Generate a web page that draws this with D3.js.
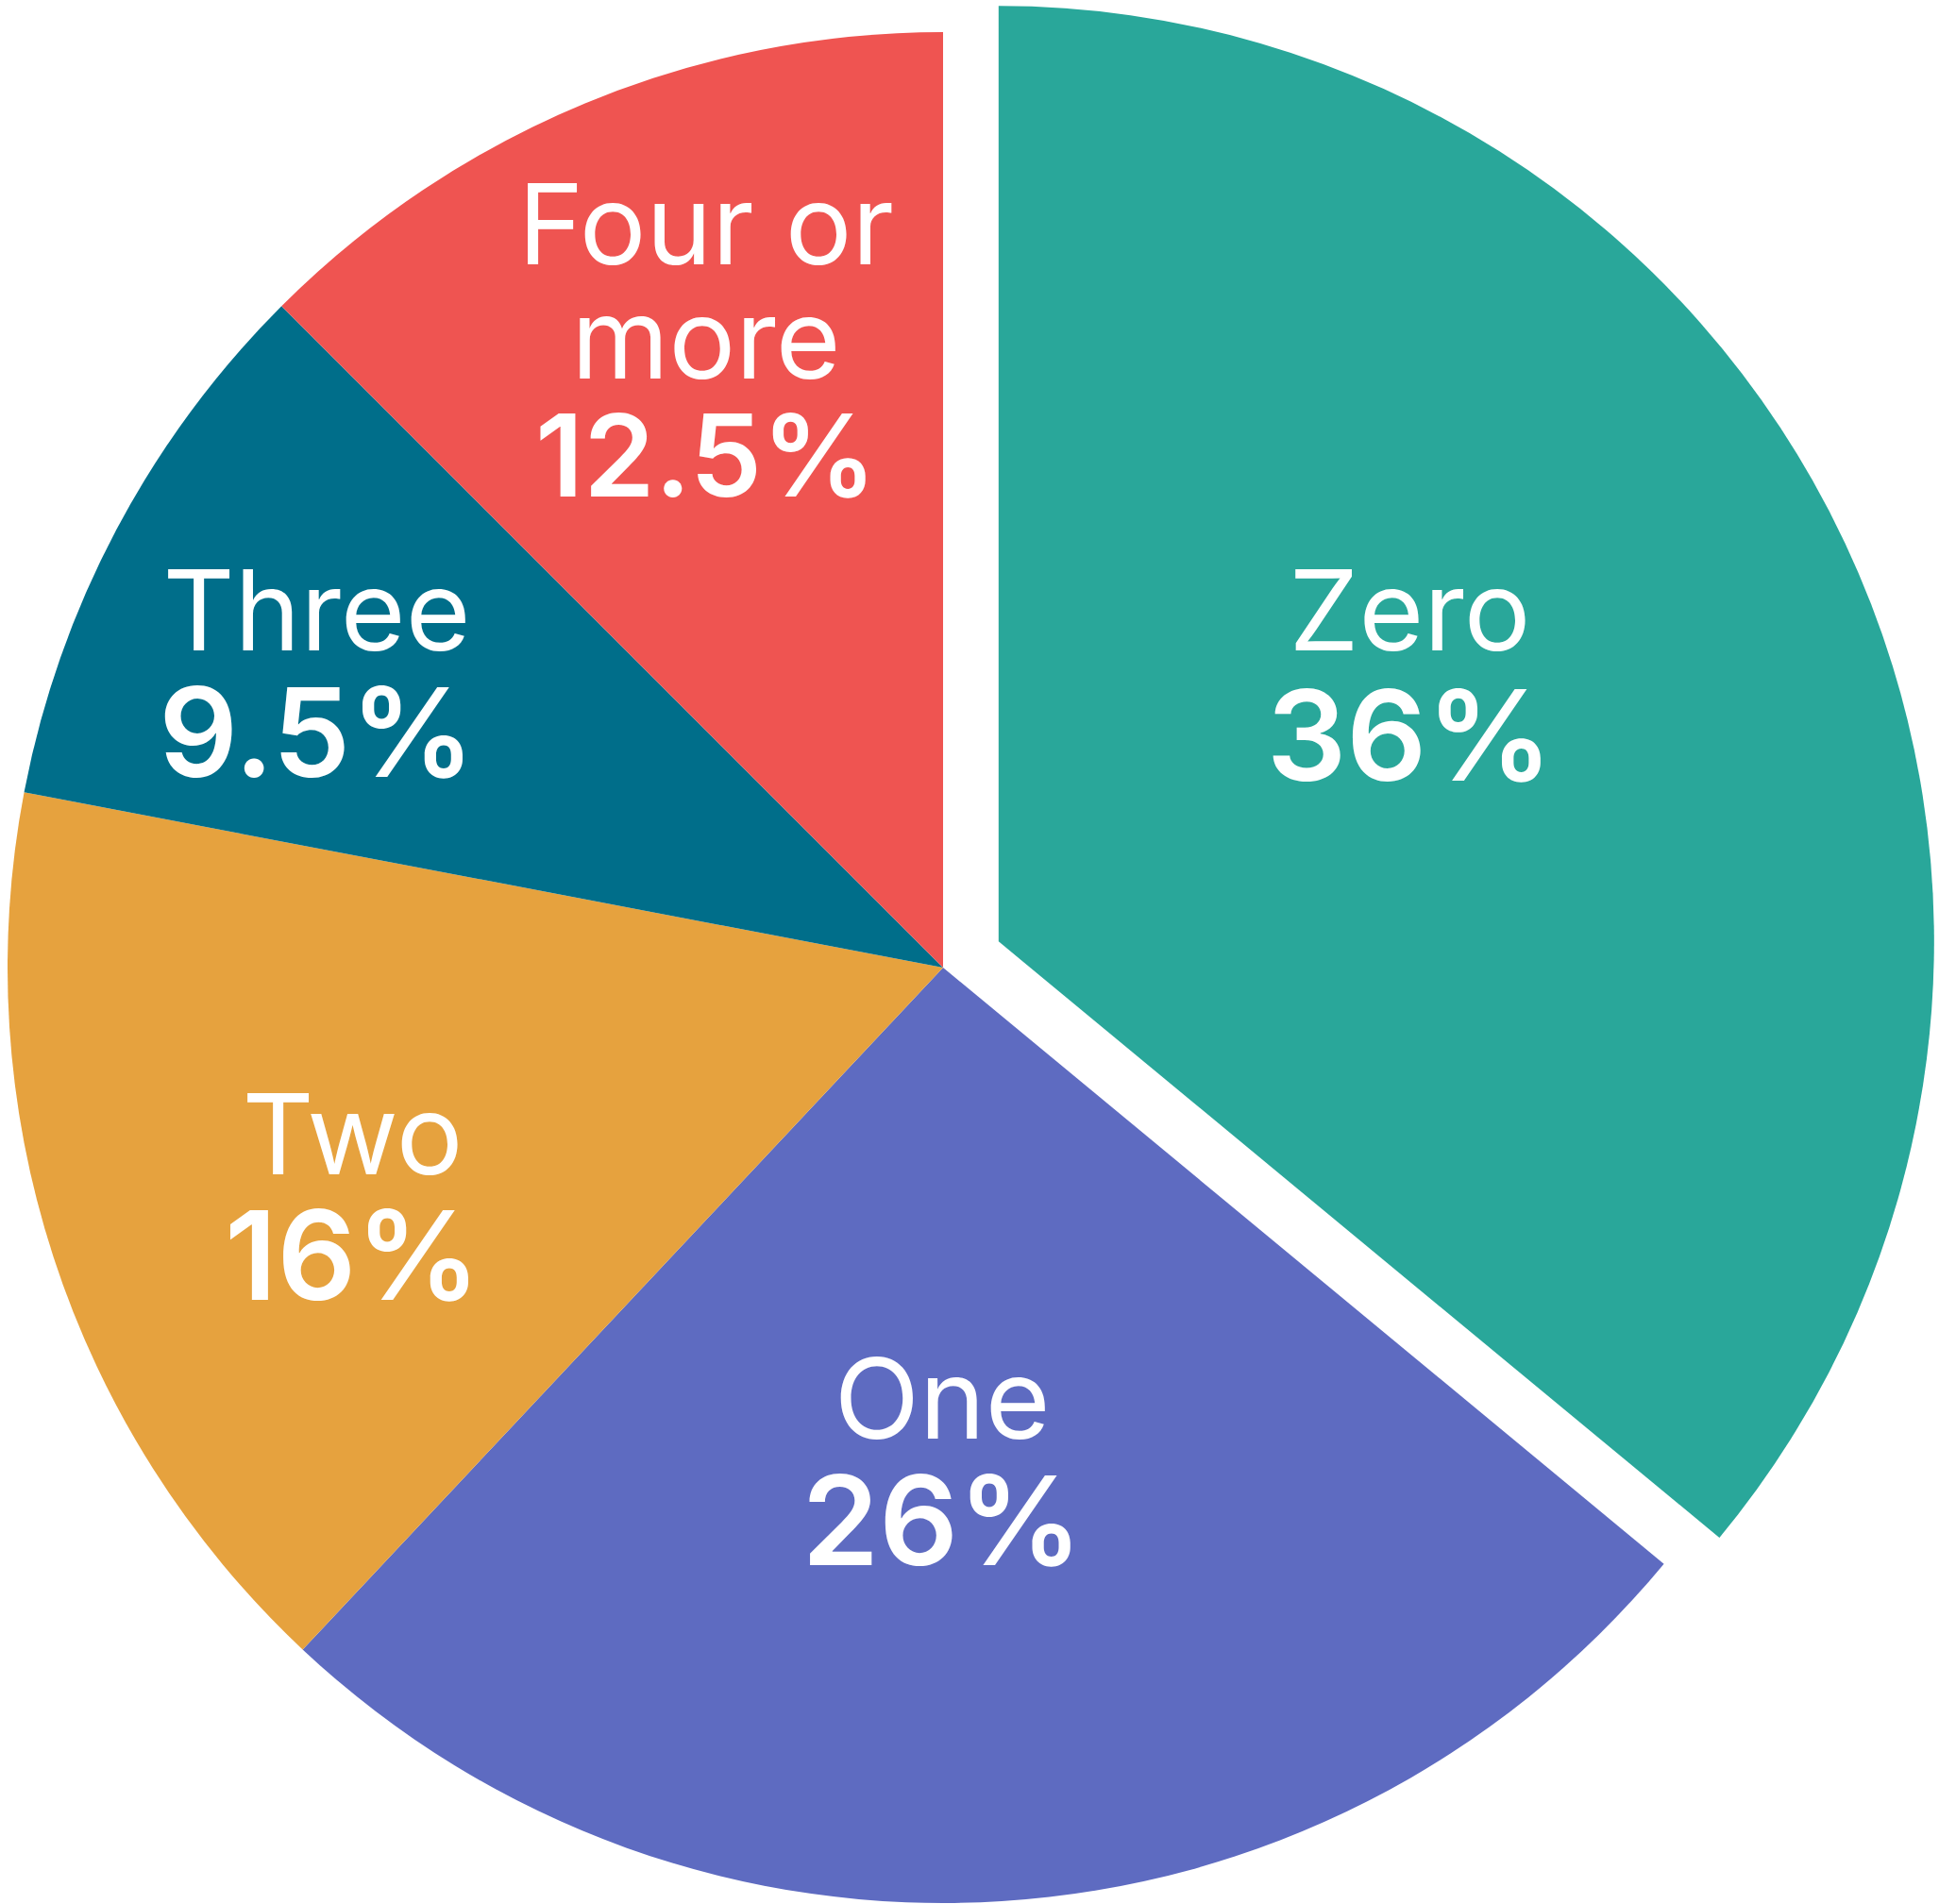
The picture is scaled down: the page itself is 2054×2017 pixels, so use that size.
<!DOCTYPE html>
<html>
<head>
<meta charset="utf-8">
<script src="https://cdn.jsdelivr.net/npm/d3@7"></script>
<style>
  html, body { margin: 0; padding: 0; background: #fff; }
  svg { display: block; }
  .label text { font-family: Inter, sans-serif; fill: #fff; }
  .name { font-weight: 400; }
  .pct { font-weight: 600; }
</style>
</head>
<body>
<div id="chart"></div>
<script>
const categories = ['Zero', 'One', 'Two', 'Three', 'Four or more'];
const shares = [36, 26, 16, 9.5, 12.5];
const pctLabels = ['36%', '26%', '16%', '9.5%', '12.5%'];
const nameLines = [['Zero'], ['One'], ['Two'], ['Three'], ['Four or', 'more']];
const colors = ['#29a79a', '#5e6bc1', '#e6a23e', '#006e8a', '#ef5451'];

const W = 2054;
const H = 2017;
const cx = 999;
const cy = 1025;
const R = 991;
const explode = 65;

// label placement: fraction of radius and angular nudge (degrees) per slice
const labelRadius = [0.524, 0.528, 0.677, 0.74, 0.717];
const labelNudge = [-7.8, 3.7, -3.2, -2.7, 1.8];
// percent line: font size and gap below the last name line, per slice
const pctSize = [133, 131, 131, 131, 121];
const pctGap = [138, 134, 133, 134, 125];

const svg = d3.select('#chart').append('svg')
  .attr('width', W)
  .attr('height', H)
  .attr('viewBox', `0 0 ${W} ${H}`);

const pie = d3.pie().sort(null).value(d => d.value);
const arcs = pie(categories.map((c, i) => ({ name: c, value: shares[i], i })));
const arc = d3.arc().innerRadius(0).outerRadius(R);

const g = svg.append('g').attr('transform', `translate(${cx},${cy})`);

function shift(d) {
  if (d.index !== 0) return [0, 0];
  const a = (d.startAngle + d.endAngle) / 2;
  return [Math.sin(a) * explode, -Math.cos(a) * explode];
}

g.selectAll('path.slice')
  .data(arcs)
  .join('path')
  .attr('class', 'slice')
  .attr('d', arc)
  .attr('fill', d => colors[d.index])
  .attr('transform', d => `translate(${shift(d)})`);

const NAME_SIZE = 118;
const CAP = 86;
const LINE = 121;

const labels = g.selectAll('g.label')
  .data(arcs)
  .join('g')
  .attr('class', 'label')
  .attr('transform', d => {
    const [sx, sy] = shift(d);
    const a = (d.startAngle + d.endAngle) / 2 + labelNudge[d.index] * Math.PI / 180;
    const r = R * labelRadius[d.index];
    return `translate(${sx + Math.sin(a) * r},${sy - Math.cos(a) * r})`;
  });

// one text element per label, lines as tspans
labels.each(function (d) {
  const lines = nameLines[d.index];
  const block = CAP + LINE * (lines.length - 1) + pctGap[d.index];
  const top = -block / 2;
  const txt = d3.select(this).append('text').attr('text-anchor', 'middle');
  lines.forEach((ln, k) => {
    txt.append('tspan')
      .attr('class', 'name')
      .attr('x', 0)
      .attr('y', top + CAP + LINE * k)
      .attr('font-size', NAME_SIZE)
      .text(ln);
  });
  txt.append('tspan')
    .attr('class', 'pct')
    .attr('x', 0)
    .attr('y', top + block)
    .attr('font-size', pctSize[d.index])
    .text(pctLabels[d.index]);
});
</script>
</body>
</html>
